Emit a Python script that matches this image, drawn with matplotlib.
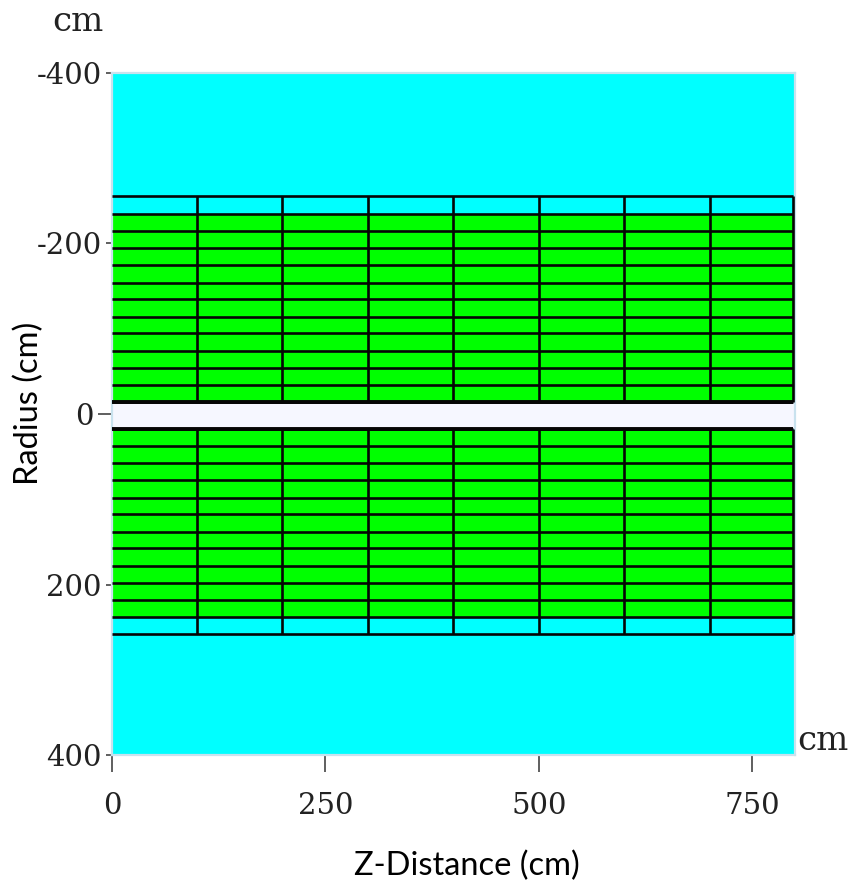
import matplotlib
matplotlib.use("Agg")
import matplotlib.pyplot as plt

z_edges = [100, 199, 300, 399, 500, 600, 700, 798]
upper_edges = [-255.7, -234.6, -214.7, -194.7, -174.8, -153.7, -134.9, -113.8, -95, -73.9, -54, -34, -14]
lower_edges = [17.6, 37.2, 57.8, 77.4, 98.2, 117.7, 138.4, 157.6, 178.3, 197.9, 218.2, 238.1, 258.4]
x_ticks = [0, 250, 500, 750]
y_ticks = [-400, -200, 200, 400]
y_labels = ["-400", "-200", "200", "400"]
y_center_tick = [0]
y_center_label = ["0"]

W, H = 856, 888
fig = plt.figure(figsize=(W / 100, H / 100), dpi=100)
ax = fig.add_axes([112 / W, 1 - 755 / H, (795 - 112) / W, (755 - 73) / H])
ax.set_xlim(0, 800)
ax.set_ylim(400, -400)
ax.set_facecolor("#00ffff")

ax.axhspan(upper_edges[1], upper_edges[-1], xmin=0, xmax=z_edges[-1] / 800, color="#00ff00", lw=0)
ax.axhspan(lower_edges[0], lower_edges[-2], xmin=0, xmax=z_edges[-1] / 800, color="#00ff00", lw=0)
ax.axhspan(upper_edges[-1], lower_edges[0], color="#f6f7ff", lw=0)

ax.hlines(upper_edges, 0, z_edges[-1], color="#050505", lw=1.9, zorder=3)
ax.hlines(lower_edges, 0, z_edges[-1], color="#050505", lw=1.9, zorder=3)
ax.hlines([upper_edges[-1], lower_edges[0]], 0, z_edges[-1], color="#050505", lw=2.8, zorder=3)
ax.vlines(z_edges, upper_edges[0], upper_edges[-1], color="#050505", lw=1.9, zorder=3)
ax.vlines(z_edges, lower_edges[0], lower_edges[-1], color="#050505", lw=1.9, zorder=3)

for s in ax.spines.values():
    s.set_color("#c9e2ee")
    s.set_linewidth(1.6)

ax.set_xticks(x_ticks)
ax.set_yticks(y_ticks, labels=y_labels)
ax.set_yticks(y_center_tick, labels=y_center_label, minor=True)
serif = "DejaVu Serif"
ax.tick_params(axis="x", length=12, width=1.2, color="#444444", pad=14.5,
               labelsize=21, labelcolor="#222222")
ax.tick_params(axis="y", which="major", length=4.5, width=1.2, color="#444444", pad=3,
               labelsize=21, labelcolor="#222222")
ax.tick_params(axis="y", which="minor", length=10, width=1.2, color="#444444", pad=3,
               labelsize=21, labelcolor="#222222")
for t in ax.get_xticklabels() + ax.get_yticklabels() + ax.get_yticklabels(minor=True):
    t.set_fontfamily(serif)

fig.text(78 / W, 1 - 22 / H, "cm", family=serif, fontsize=24.5, color="#222222", ha="center", va="center")
fig.text(823 / W, 1 - 741 / H, "cm", family=serif, fontsize=24.5, color="#222222", ha="center", va="center")
fig.text(467 / W, 1 - 866 / H, "Z-Distance (cm)", family="Lato", fontsize=23.5, color="black", ha="center", va="center")
fig.text(29 / W, 1 - 403 / H, "Radius (cm)", family="Lato", fontsize=23.5, color="black", ha="center", va="center", rotation=90)

fig.savefig("out.png", dpi=100)
